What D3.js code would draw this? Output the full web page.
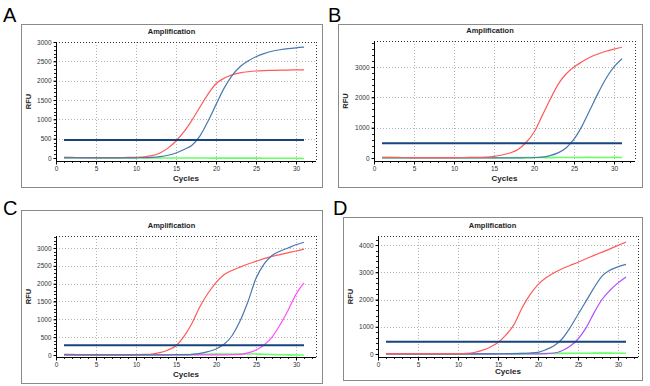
<!DOCTYPE html>
<html>
<head>
<meta charset="utf-8">
<script src="https://cdn.jsdelivr.net/npm/d3@7"></script>
<style>
  body { margin: 0; background: #fff; }
  svg { display: block; font-family: "Liberation Sans", Arial, sans-serif; }
</style>
</head>
<body>
<div id="chart"></div>
<script>
const cycles = [1,2,3,4,5,6,7,8,9,10,11,12,13,14,15,16,17,18,19,20,21,22,23,24,25,26,27,28,29,30,31];
const xTicks = [0, 5, 10, 15, 20, 25, 30];

// panel A
const redA = [15,14,12,10,10,10,10,12,14,18,30,60,130,255,440,680,980,1320,1650,1920,2060,2150,2200,2230,2250,2260,2265,2270,2275,2278,2280];
const blueA = [5,5,4,3,3,2,2,2,3,5,8,15,35,70,130,220,330,570,950,1380,1800,2130,2360,2510,2620,2700,2760,2800,2830,2850,2865];
const greenA = [10,8,6,5,4,3,3,2,2,2,2,1,1,0,0,0,-1,-2,-2,-3,-3,-3,-4,-4,-4,-5,-5,-6,-6,-8,-12];
const yTicksA = [0, 500, 1000, 1500, 2000, 2500, 3000];

// panel B
const redB = [25,20,18,16,15,15,15,15,15,15,16,18,22,30,55,100,165,280,510,850,1380,1920,2420,2770,3000,3170,3320,3430,3520,3590,3650];
const blueB = [5,5,4,4,3,3,3,3,3,3,3,3,3,3,4,4,5,6,8,15,30,80,170,330,620,1050,1590,2130,2620,3000,3270];
const greenB = [15,12,10,10,8,8,8,8,8,10,10,10,8,8,8,10,10,12,12,14,15,12,14,16,15,18,20,14,16,22,15];
const yTicksB = [0, 1000, 2000, 3000];

// panel C
const redC = [20,15,12,10,10,10,10,10,12,14,18,28,65,140,260,520,890,1360,1730,2030,2250,2370,2465,2550,2625,2700,2765,2815,2865,2915,2970];
const blueC = [5,5,4,4,3,3,3,3,3,3,3,4,5,6,8,12,20,45,95,170,300,540,950,1500,2150,2550,2790,2910,3000,3090,3160];
const magentaC = [3,3,3,3,3,3,3,3,3,3,3,3,3,3,3,3,3,3,3,4,5,8,15,60,140,280,500,845,1250,1700,2020];
const greenC = [10,8,6,5,4,4,4,4,4,4,4,5,5,6,8,10,15,20,22,25,28,30,30,28,26,22,15,8,4,2,0];
const yTicksC = [0, 500, 1000, 1500, 2000, 2500, 3000];

// panel D
const redD = [15,12,10,10,10,10,10,10,12,15,25,55,130,250,420,700,1080,1690,2180,2550,2800,2980,3130,3250,3370,3500,3620,3740,3860,3990,4110];
const blueD = [5,5,4,4,3,3,3,3,3,3,3,4,5,6,8,10,14,20,35,60,160,300,550,960,1450,1940,2430,2860,3080,3200,3290];
const purpleD = [3,3,3,3,3,3,3,3,3,3,3,3,3,3,3,3,3,3,4,6,12,35,120,280,550,960,1510,2000,2340,2610,2830];
const greenD = [10,8,6,5,5,5,5,5,5,5,5,5,6,6,8,10,12,14,16,18,20,20,22,24,26,28,30,30,30,28,25];
const yTicksD = [0, 1000, 2000, 3000, 4000];

const thresholds = { A: 465, B: 490, C: 270, D: 450 };

const COL = { red: "#ff5a5a", blue: "#4a78b0", green: "#66ff66", magenta: "#ff4dff", purple: "#b04dff", thr: "#16457e" };

const panels = [
  { id: "A", letter: [3, 22], frame: [21, 24, 322, 187], plot: [56, 42, 316, 161], yDom: [-78, 3000], yTicks: yTicksA, minor: 100,
    series: [[greenA, COL.green], [redA, COL.red], [blueA, COL.blue]] },
  { id: "B", letter: [328, 22], frame: [338, 24, 642, 187], plot: [374, 41, 635, 161], yDom: [-99, 3857], yTicks: yTicksB, minor: 200,
    series: [[greenB, COL.green], [blueB, COL.blue], [redB, COL.red]] },
  { id: "C", letter: [3, 215], frame: [21, 210, 322, 383], plot: [56, 236, 316, 357], yDom: [-56, 3336], yTicks: yTicksC, minor: 100,
    series: [[greenC, COL.green], [magentaC, COL.magenta], [redC, COL.red], [blueC, COL.blue]] },
  { id: "D", letter: [333, 215], frame: [343, 217, 642, 380], plot: [378, 236, 638, 357], yDom: [-111, 4333], yTicks: yTicksD, minor: 200,
    series: [[greenD, COL.green], [purpleD, COL.purple], [blueD, COL.blue], [redD, COL.red]] }
];

const svg = d3.select("#chart").append("svg").attr("width", 650).attr("height", 386);

panels.forEach(p => {
  const [fx0, fy0, fx1, fy1] = p.frame;
  const [px0, py0, px1, py1] = p.plot;
  const g = svg.append("g");

  g.append("text").attr("x", p.letter[0]).attr("y", p.letter[1])
    .attr("font-size", "20px").attr("fill", "#000").text(p.id);

  g.append("rect").attr("x", fx0 + 0.5).attr("y", fy0 + 0.5)
    .attr("width", fx1 - fx0).attr("height", fy1 - fy0)
    .attr("fill", "#fff").attr("stroke", "#8a8a8a");

  const x = d3.scaleLinear().domain([0, (px1 - px0) / 8]).range([px0, px1]);
  const y = d3.scaleLinear().domain(p.yDom).range([py1, py0]);

  // grid
  g.selectAll(".gx").data(xTicks.filter(d => d > 0)).enter().append("line")
    .attr("x1", d => Math.round(x(d)) + 0.5).attr("x2", d => Math.round(x(d)) + 0.5)
    .attr("y1", py0).attr("y2", py1)
    .attr("stroke", "#b5b5b5").attr("stroke-dasharray", "1,2");
  g.selectAll(".gy").data(p.yTicks.filter(d => d > 0)).enter().append("line")
    .attr("x1", px0).attr("x2", px1)
    .attr("y1", d => Math.round(y(d)) + 0.5).attr("y2", d => Math.round(y(d)) + 0.5)
    .attr("stroke", "#b5b5b5").attr("stroke-dasharray", "1,2");

  // top and right border dotted
  g.append("line").attr("x1", px0).attr("x2", px1).attr("y1", py0 + 0.5).attr("y2", py0 + 0.5)
    .attr("stroke", "#333").attr("stroke-dasharray", "1,2");
  g.append("line").attr("x1", px1 + 0.5).attr("x2", px1 + 0.5).attr("y1", py0).attr("y2", py1)
    .attr("stroke", "#333").attr("stroke-dasharray", "1,2");

  // minor ticks
  const minorX = d3.range(0, Math.floor((px1 - px0) / 8) + 1);
  g.selectAll(".mx").data(minorX).enter().append("line")
    .attr("x1", d => Math.round(x(d)) + 0.5).attr("x2", d => Math.round(x(d)) + 0.5)
    .attr("y1", py1).attr("y2", py1 + 2).attr("stroke", "#222");
  const minorY = d3.range(0, p.yDom[1], p.minor);
  g.selectAll(".my").data(minorY).enter().append("line")
    .attr("x1", px0 - 2).attr("x2", px0)
    .attr("y1", d => Math.round(y(d)) + 0.5).attr("y2", d => Math.round(y(d)) + 0.5)
    .attr("stroke", "#222");

  // axes
  const xAxis = d3.axisBottom(x).tickValues(xTicks).tickSize(3).tickPadding(2).tickFormat(d3.format("d"));
  const gx = g.append("g").attr("transform", `translate(0,${py1 + 0.5})`).call(xAxis);
  const yAxis = d3.axisLeft(y).tickValues(p.yTicks).tickSize(3).tickPadding(2).tickFormat(d3.format("d"));
  const gy = g.append("g").attr("transform", `translate(${px0 + 0.5},0)`).call(yAxis);
  [gx, gy].forEach(a => {
    a.select(".domain").attr("stroke", "#000");
    a.selectAll(".tick line").attr("stroke", "#000");
    a.selectAll(".tick text").attr("font-size", "6.5px").attr("fill", "#333")
      .attr("font-family", "'Liberation Sans', Arial, sans-serif");
  });
  gx.select(".domain").attr("d", `M${px0},0H${px1}`);
  gy.select(".domain").attr("d", `M0,${py1}V${py0}`);

  // curves
  const line = d3.line().x((d, i) => x(cycles[i])).y(d => y(d)).curve(d3.curveMonotoneX);
  p.series.forEach(([vals, c]) => {
    g.append("path").datum(vals).attr("d", line)
      .attr("fill", "none").attr("stroke", c).attr("stroke-width", c === COL.green ? 1.6 : 1.2);
  });

  // threshold
  g.append("line").attr("x1", x(cycles[0])).attr("x2", x(cycles[cycles.length - 1]))
    .attr("y1", y(thresholds[p.id])).attr("y2", y(thresholds[p.id]))
    .attr("stroke", COL.thr).attr("stroke-width", 2);

  // labels
  g.append("text").attr("x", (fx0 + fx1) / 2).attr("y", py0 - 8)
    .attr("text-anchor", "middle").attr("font-size", "7.5px").attr("font-weight", "bold")
    .attr("fill", "#222").text("Amplification");
  g.append("text").attr("x", (px0 + px1) / 2).attr("y", fy1 - 6)
    .attr("text-anchor", "middle").attr("font-size", "8px").attr("font-weight", "bold")
    .attr("fill", "#222").text("Cycles");
  g.append("text").attr("transform", `translate(${fx0 + 10},${(py0 + py1) / 2}) rotate(-90)`)
    .attr("text-anchor", "middle").attr("font-size", "7.5px").attr("font-weight", "bold")
    .attr("fill", "#222").text("RFU");
});
</script>
</body>
</html>
